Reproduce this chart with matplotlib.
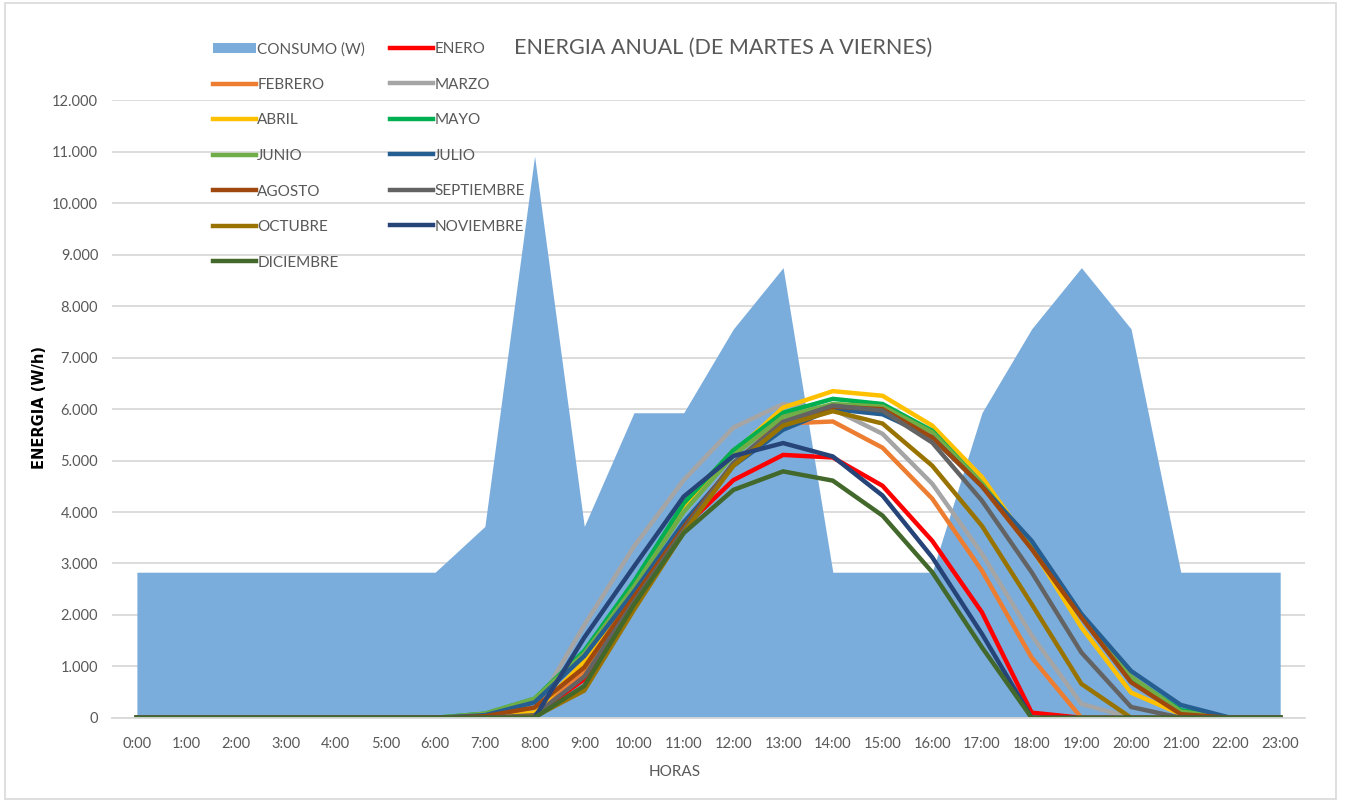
import matplotlib.pyplot as plt
from matplotlib.patches import Rectangle
from matplotlib.ticker import FuncFormatter, MultipleLocator

plt.rcParams['font.family'] = ['Lato', 'DejaVu Sans']

horas = ['0:00', '1:00', '2:00', '3:00', '4:00', '5:00', '6:00', '7:00', '8:00', '9:00',
         '10:00', '11:00', '12:00', '13:00', '14:00', '15:00', '16:00', '17:00', '18:00',
         '19:00', '20:00', '21:00', '22:00', '23:00']

consumo = [2830, 2830, 2830, 2830, 2830, 2830, 2830, 3720, 10920, 3720, 5930, 5930,
           7560, 8750, 2830, 2830, 2830, 5930, 7560, 8750, 7560, 2830, 2830, 2830]

enero = [0, 0, 0, 0, 0, 0, 0, 0, 50, 750, 2300, 3700, 4620, 5110, 5060, 4510, 3440, 2050,
         100, 0, 0, 0, 0, 0]
febrero = [0, 0, 0, 0, 0, 0, 0, 0, 50, 900, 2500, 4150, 5200, 5720, 5760, 5250, 4260, 2860,
           1170, 0, 0, 0, 0, 0]
marzo = [0, 0, 0, 0, 0, 0, 0, 20, 150, 1800, 3330, 4620, 5640, 6100, 6000, 5520, 4550, 3190,
         1600, 270, 0, 0, 0, 0]
abril = [0, 0, 0, 0, 0, 0, 0, 30, 100, 1100, 2550, 4080, 5150, 6030, 6350, 6260, 5680, 4680,
         3310, 1760, 490, 70, 0, 0]
mayo = [0, 0, 0, 0, 0, 0, 0, 80, 370, 1300, 2650, 4170, 5200, 5930, 6200, 6100, 5580, 4550,
        3350, 2000, 780, 150, 0, 0]
junio = [0, 0, 0, 0, 0, 0, 0, 80, 370, 1250, 2550, 4000, 5100, 5850, 6100, 6050, 5550, 4550,
         3350, 2000, 800, 120, 0, 0]
julio = [0, 0, 0, 0, 0, 0, 0, 50, 300, 1200, 2450, 3800, 4900, 5600, 6000, 5900, 5450, 4500,
         3440, 2020, 910, 250, 0, 0]
agosto = [0, 0, 0, 0, 0, 0, 0, 30, 200, 980, 2350, 3700, 4950, 5750, 6050, 6000, 5450, 4500,
          3280, 1950, 690, 70, 0, 0]
septiembre = [0, 0, 0, 0, 0, 0, 0, 0, 50, 800, 2250, 3650, 4950, 5750, 6070, 5970, 5350, 4220,
              2830, 1270, 210, 0, 0, 0]
octubre = [0, 0, 0, 0, 0, 0, 0, 0, 20, 530, 2100, 3600, 4900, 5680, 5960, 5720, 4900, 3730,
           2210, 660, 0, 0, 0, 0]
noviembre = [0, 0, 0, 0, 0, 0, 0, 0, 0, 1560, 2940, 4300, 5090, 5340, 5080, 4320, 3120, 1630,
             0, 0, 0, 0, 0, 0]
diciembre = [0, 0, 0, 0, 0, 0, 0, 0, 0, 620, 2200, 3590, 4430, 4790, 4610, 3930, 2830, 1370,
             0, 0, 0, 0, 0, 0]

meses = ['ENERO', 'FEBRERO', 'MARZO', 'ABRIL', 'MAYO', 'JUNIO', 'JULIO', 'AGOSTO',
         'SEPTIEMBRE', 'OCTUBRE', 'NOVIEMBRE', 'DICIEMBRE']
series = [enero, febrero, marzo, abril, mayo, junio, julio, agosto, septiembre, octubre,
          noviembre, diciembre]
colores = ['#FF0000', '#ED7D31', '#A5A5A5', '#FFC000', '#00B050', '#70AD47', '#255E91',
           '#9E480E', '#636363', '#997300', '#264478', '#43682B']

fig = plt.figure(figsize=(13.45, 8.02), dpi=100)
ax = fig.add_axes([0.0833, 0.105, 0.887, 0.7697])

x = list(range(len(horas)))
area = ax.fill_between(x, consumo, 0, color='#7BADDC', linewidth=0, label='CONSUMO (W)')
lineas = []
for nombre, datos, c in zip(meses, series, colores):
    l, = ax.plot(x, datos, color=c, linewidth=3.2, label=nombre, solid_joinstyle='miter')
    lineas.append(l)

ax.set_xlim(-0.5, 23.5)
ax.set_ylim(0, 12000)
ax.set_xticks(x)
ax.set_xticklabels(horas)
ax.yaxis.set_major_locator(MultipleLocator(1000))
ax.yaxis.set_major_formatter(FuncFormatter(lambda v, p: f"{int(v):,}".replace(',', '.')))
ax.tick_params(length=0, labelsize=10.5, colors='#595959')
ax.tick_params(axis='y', pad=10)
ax.tick_params(axis='x', pad=14)
ax.grid(axis='y', color='#D9D9D9', linewidth=1.3)
ax.set_axisbelow(True)
for s in ['top', 'right', 'left']:
    ax.spines[s].set_visible(False)
ax.spines['bottom'].set_color('#D9D9D9')
ax.spines['bottom'].set_linewidth(1.3)

# leyenda por filas como en Excel: dos columnas separadas
h_col1 = [area, lineas[1], lineas[3], lineas[5], lineas[7], lineas[9], lineas[11]]
h_col2 = [lineas[0], lineas[2], lineas[4], lineas[6], lineas[8], lineas[10]]
ley = dict(loc='upper left', frameon=False, fontsize=11, handlelength=2.8,
           handletextpad=0.1, labelspacing=1.41, labelcolor='#595959',
           borderaxespad=0, borderpad=0)
l1 = fig.legend(h_col1, [h.get_label() for h in h_col1],
                bbox_to_anchor=(213 / 1345, 1 - 42 / 802), **ley)
l2 = fig.legend(h_col2, [h.get_label() for h in h_col2],
                bbox_to_anchor=(390 / 1345, 1 - 42 / 802), **ley)

fig.text(723 / 1345, 1 - 48 / 802, 'ENERGIA ANUAL (DE MARTES A VIERNES)', ha='center',
         va='center', fontsize=15.5, color='#595959')
fig.text(39 / 1345, 1 - 408 / 802, 'ENERGIA (W/h)', rotation=90, ha='center', va='center',
         fontsize=10.5, fontweight='bold', color='black', family='DejaVu Sans')
fig.text(675 / 1345, 1 - 772 / 802, 'HORAS', ha='center', va='center', fontsize=11,
         color='#595959')

fig.patches.append(Rectangle((0.004, 0.004), 0.989, 0.992, transform=fig.transFigure,
                             fill=False, edgecolor='#D9D9D9', linewidth=1.2))

fig.savefig('out.png', dpi=100)
